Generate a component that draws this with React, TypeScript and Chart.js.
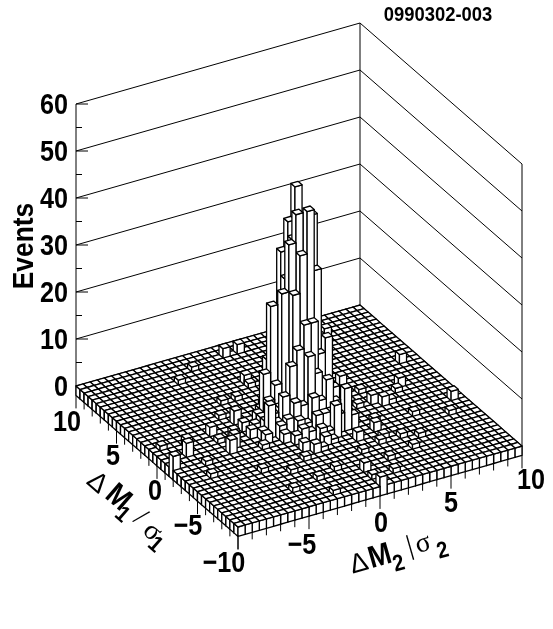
import React, { useEffect, useRef } from "react";
import { Chart, registerables } from "chart.js";

Chart.register(...registerables);

// Sparse histogram: bin index along dM2, bin index along dM1, events
const cellM2Bin = [20,19,20,21,21,19,18,18,19,21,17,18,16,20,22,22,16,18,19,17,21,15,16,23,16,17,19,14,19,21,23,22,20,20,19,22,18,21,19,20,21,20,18,17,17,17,19,20,21,21,22,23,23,22,23,18,16,15,15,15,16,17,18,19,20,20,22,22,
  14,11,18,18,12,8,10,8,0,3,1,4,4,3,19,21,37,34,38,36,29,30,28,31,30,28,23,20,23,20,14,14,10,20,
  9,12,13,15,12,16,12,13,24,20,17,18,15,18,17,16,15,15,14,14,14,13,19,21,20,23,23,24,24,24,25,22,16,20,19,18,8,
  27,32,26,25,29,27,26,33,22,17,12,9,24,28,13,11,15,26];
const cellM1Bin = [21,19,18,19,20,21,19,21,18,18,19,18,20,17,19,17,21,17,16,17,15,20,19,17,17,16,15,17,14,13,14,14,20,19,20,20,20,21,22,22,22,23,22,20,21,22,17,16,17,16,18,19,18,21,20,16,18,19,21,18,16,15,15,13,15,14,16,15,
  36,34,30,29,22,21,19,16,16,18,21,20,15,12,37,37,25,20,14,11,18,17,24,17,8,9,11,4,2,0,1,5,4,2,
  17,18,16,15,15,12,20,19,14,13,11,11,10,14,14,14,17,16,18,19,20,17,12,14,12,16,15,16,18,20,17,22,22,24,23,23,19,
  14,13,10,9,21,18,12,19,8,6,8,10,5,6,27,24,27,24];
const cellEvents = [48,44,45,43,41,41,38,35,36,32,28,28,25,22,17,18,13,17,16,14,11,11,9,7,8,7,8,7,5,7,9,4,35,35,38,12,30,20,30,28,15,10,8,20,12,5,22,12,15,10,12,18,6,12,4,6,5,6,3,4,4,4,3,3,7,5,5,6,
  1,1,2,1,3,2,2,3,3,3,1,2,1,1,2,2,2,2,2,1,2,2,2,1,1,1,2,2,1,2,1,1,1,1,
  3,2,2,2,1,2,2,2,3,2,2,1,1,2,3,2,3,3,3,3,3,2,2,5,1,3,3,2,2,2,1,3,3,2,4,2,1,
  1,1,1,1,1,1,2,1,1,1,1,1,1,1,1,1,1,1];

const zTicks = [0, 10, 20, 30, 40, 50, 60];
const zMinorTicks = [5, 15, 25, 35, 45, 55];
const deltaTicks = [-10, -5, 0, 5, 10];
const deltaMinorTicks = [-9,-8,-7,-6,-4,-3,-2,-1,1,2,3,4,6,7,8,9];
const nBins = 40;
const zFloor = -2;
const zTop = 60;

const m1Labels = ["10", "5", "0", "\u22125", "\u221210"];
const m1LabelPos = [[67, 423], [113, 457], [155, 492], [188, 527], [224, 564]];
const m2Labels = ["\u22125", "0", "5", "10"];
const m2LabelPos = [[302, 546], [381, 524], [451, 504], [531, 481]];

function project(m2: number, m1: number, z: number) {
  const u = (m2 + 10) / 20;
  const v = (m1 + 10) / 20;
  return { x: 238 + 284 * u - 162 * v, y: 527 - 81 * u - 141 * v - 4.7 * z };
}
const binEdge = (b: number) => -10 + (b * 20) / nBins;

const legoPlugin = {
  id: "lego",
  afterDatasetsDraw(chart: any) {
    const ctx = chart.ctx;
    const sx = chart.scales.x;
    const sy = chart.scales.y;
    const P = (m2: number, m1: number, z: number) => {
      const p = project(m2, m1, z);
      return [sx.getPixelForValue(p.x), sy.getPixelForValue(p.y)];
    };
    const poly = (pts: number[][], fill: boolean) => {
      ctx.beginPath();
      pts.forEach((p, k) => (k ? ctx.lineTo(p[0], p[1]) : ctx.moveTo(p[0], p[1])));
      ctx.closePath();
      if (fill) ctx.fill();
      ctx.stroke();
    };
    const seg = (a: number[], b: number[]) => {
      ctx.beginPath();
      ctx.moveTo(a[0], a[1]);
      ctx.lineTo(b[0], b[1]);
      ctx.stroke();
    };
    ctx.save();
    ctx.strokeStyle = "#000";
    ctx.fillStyle = "#fff";
    ctx.lineWidth = 1;
    ctx.lineJoin = "round";

    // Walls
    for (const z of zTicks) {
      seg(P(-10, 10, z), P(10, 10, z));
      seg(P(10, 10, z), P(10, -10, z));
    }
    seg(P(-10, 10, zFloor), P(-10, 10, zTop));
    seg(P(10, 10, 0), P(10, 10, zTop));
    seg(P(10, -10, zFloor), P(10, -10, zTop));

    // z ticks
    for (const z of zTicks) {
      const a = P(-10, 10, z);
      seg(a, [a[0] + 12, a[1]]);
    }
    for (const z of zMinorTicks) {
      const a = P(-10, 10, z);
      seg(a, [a[0] + 6, a[1]]);
    }

    // Base ticks
    for (const t of deltaTicks) {
      let a = P(t, -10, zFloor);
      seg(a, [a[0], a[1] + 13]);
      a = P(-10, t, zFloor);
      seg(a, [a[0], a[1] + 13]);
    }
    for (const t of deltaMinorTicks) {
      let a = P(t, -10, zFloor);
      seg(a, [a[0], a[1] + 7]);
      a = P(-10, t, zFloor);
      seg(a, [a[0], a[1] + 7]);
    }

    // Bars, back to front
    ctx.lineWidth = 1.3;
    const counts = new Map<number, number>();
    chart.data.datasets[0].data.forEach((d: any) => counts.set(d.i * nBins + d.j, d.n));
    for (let i = nBins - 1; i >= 0; i--) {
      for (let j = nBins - 1; j >= 0; j--) {
        const z = counts.get(i * nBins + j) ?? 0;
        const a0 = binEdge(i), a1 = binEdge(i + 1), b0 = binEdge(j), b1 = binEdge(j + 1);
        if (z > 0 || i === 0 || j === 0) {
          poly([P(a0, b0, zFloor), P(a0, b1, zFloor), P(a0, b1, z), P(a0, b0, z)], true);
          poly([P(a0, b0, zFloor), P(a1, b0, zFloor), P(a1, b0, z), P(a0, b0, z)], true);
        }
        poly([P(a0, b0, z), P(a1, b0, z), P(a1, b1, z), P(a0, b1, z)], true);
      }
    }

    // Text
    ctx.fillStyle = "#000";
    ctx.textBaseline = "middle";
    ctx.textAlign = "center";
    const label = (t: string, x: number, y: number, deg: number, font: string, stretch = 1) => {
      ctx.save();
      ctx.translate(x, y);
      ctx.rotate((deg * Math.PI) / 180);
      ctx.scale(stretch, 1);
      ctx.font = font;
      ctx.fillText(t, 0, 0);
      ctx.restore();
    };
    const tickFont = 'bold 30px "Liberation Sans"';
    for (const z of zTicks) {
      const a = P(-10, 10, z);
      const half = String(z).length === 2 ? 14 : 7;
      label(String(z), 68 - half, a[1] + 2, 0, tickFont, 0.84);
    }
    m1Labels.forEach((t, k) => label(t, m1LabelPos[k][0], m1LabelPos[k][1], 0, tickFont, 0.84));
    m2Labels.forEach((t, k) => label(t, m2LabelPos[k][0], m2LabelPos[k][1], 0, tickFont, 0.84));

    label("Events", 25, 246, -90, tickFont, 0.88);

    const big = 'bold 31px "Liberation Sans"';
    const sub = 'bold 23px "Liberation Sans"';
    const sym = '28px "Liberation Serif"';
    const del = '27px "Liberation Sans"';
    label("\u0394", 97, 483, 41, del);
    label("M", 118, 498, 41, big, 0.88);
    label("1", 122, 515, 41, sub, 0.88);
    label("/", 140, 518, 41, sym);
    label("\u03c3", 152, 532, 41, sym);
    label("1", 155, 545, 41, sub, 0.88);

    label("\u0394", 359, 564, -16, del);
    label("M", 380, 557, -16, big, 0.88);
    label("2", 399, 564, -16, sub, 0.88);
    label("|", 410, 547, -16, sym);
    label("\u03c3", 423, 544, -16, sym);
    label("2", 443, 551, -16, sub, 0.88);

    label("0990302-003", 438, 15, 0, 'bold 20px "Liberation Sans"', 0.92);
    ctx.restore();
  },
};

export default function App() {
  const ref = useRef<HTMLCanvasElement>(null);
  useEffect(() => {
    const data = cellEvents.map((n, k) => {
      const p = project(binEdge(cellM2Bin[k]) + 0.25, binEdge(cellM1Bin[k]) + 0.25, n);
      return { x: p.x, y: p.y, i: cellM2Bin[k], j: cellM1Bin[k], n };
    });
    const chart = new Chart(ref.current!, {
      type: "scatter",
      data: { datasets: [{ data, pointRadius: 0, showLine: false }] },
      options: {
        animation: false,
        responsive: false,
        layout: { padding: 0 },
        plugins: { legend: { display: false }, tooltip: { enabled: false } },
        scales: {
          x: { type: "linear", min: 0, max: 553, display: false },
          y: { type: "linear", min: 0, max: 629, reverse: true, display: false },
        },
      },
      plugins: [legoPlugin],
    } as any);
    return () => chart.destroy();
  }, []);
  return (
    <canvas
      ref={ref}
      width={553}
      height={629}
      style={{ position: "absolute", left: 0, top: 0, display: "block", background: "#fff" }}
    />
  );
}
